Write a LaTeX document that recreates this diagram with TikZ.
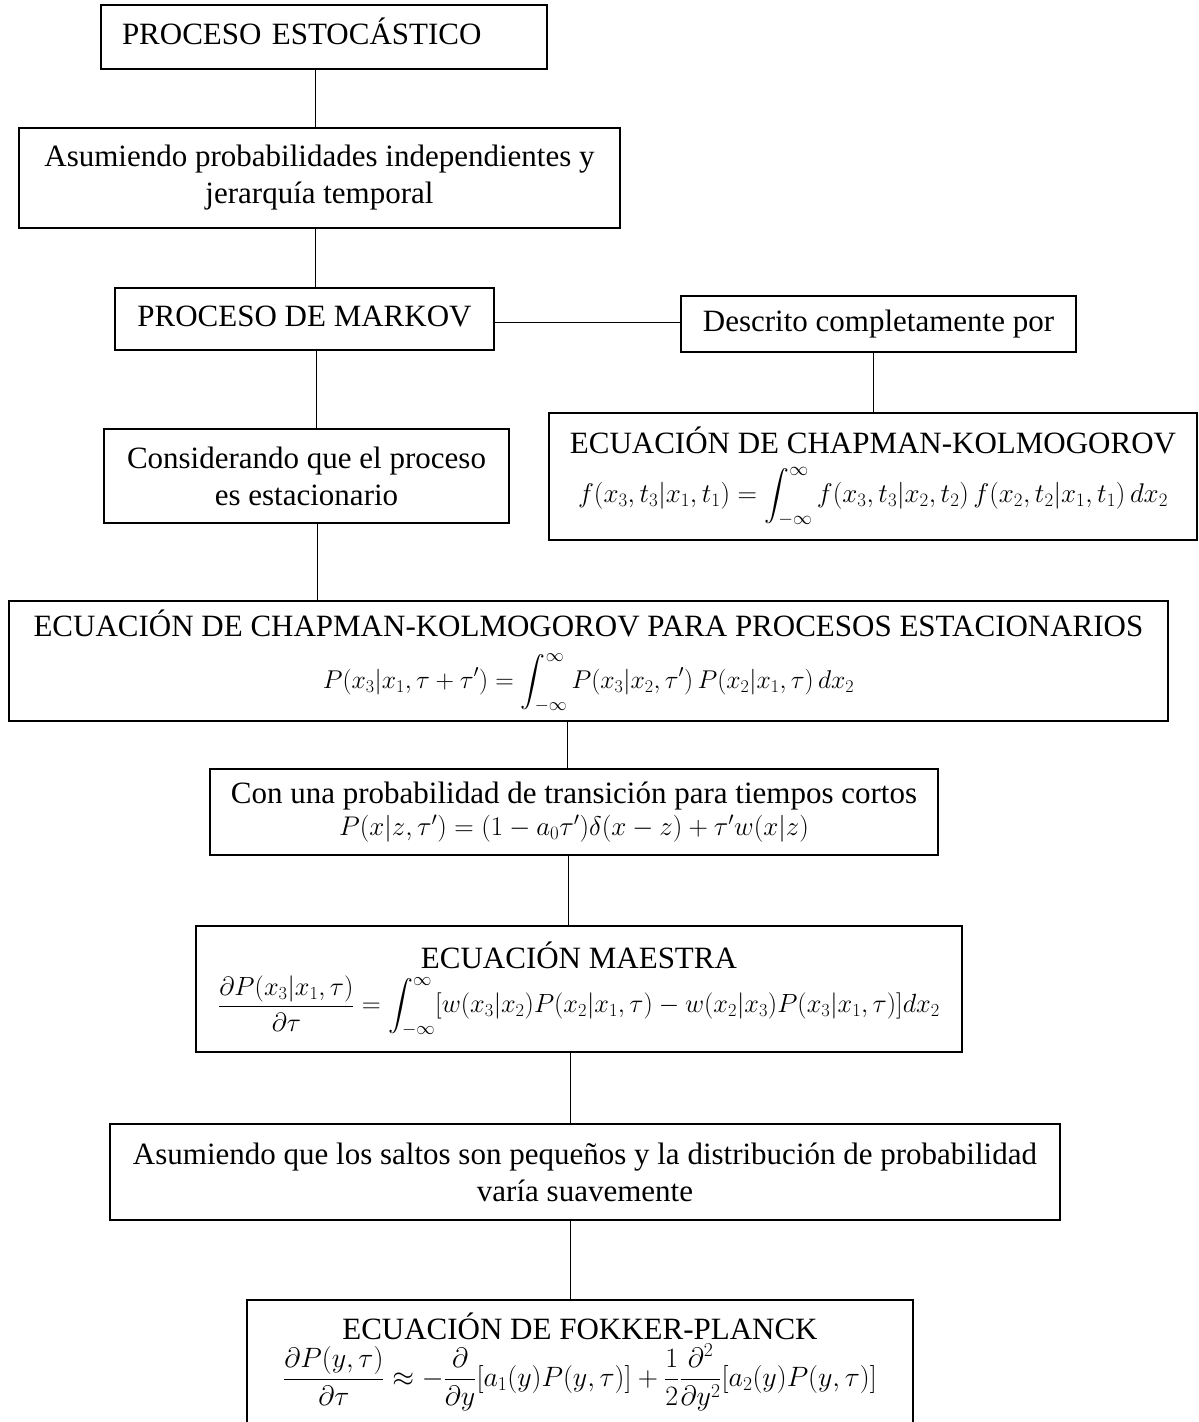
\RequirePackage{fix-cm}
\documentclass[tikz,border=0pt]{standalone}
\usepackage{amsmath}
\usepackage{fontspec}
\setmainfont{Liberation Serif}
\newcommand\eqsz[1]{\fontsize{#1}{32}\selectfont}
\tikzset{
  box/.style={draw, line width=1.5pt, inner sep=0pt, align=center, font=\fontsize{31}{37}\selectfont},
  link/.style={line width=1pt},
}
\begin{document}
\begin{tikzpicture}[x=1pt,y=-1pt]
\fill[white] (0,0) rectangle (1199,1422);
\useasboundingbox (0,0) rectangle (1199,1422);
\clip (0,0) rectangle (1199,1422);

\node[box, minimum height=64, text width=404, inner xsep=21, align=left, text depth=12pt] (n1) at (324,37) {PROCESO ESTOCÁSTICO};
\node[box, minimum width=601, minimum height=100] (n2) at (319.5,178) {Asumiendo probabilidades independientes y\\ jerarquía temporal};
\node[box, minimum width=379, minimum height=62, text depth=6pt] (n3) at (304.5,319) {PROCESO DE MARKOV};
\node[box, minimum width=395, minimum height=56] (n4) at (878.5,324) {Descrito completamente por};
\node[box, minimum width=405, minimum height=94] (n5) at (306.5,476) {Considerando que el proceso\\ es estacionario};
\node[box, minimum width=648, minimum height=127] (n6) at (873,476.5) {ECUACIÓN DE CHAPMAN-KOLMOGOROV\\[12pt]
  {\eqsz{27}$\displaystyle f(x_3,t_3|x_1,t_1)=\int_{-\infty}^{\infty} f(x_3,t_3|x_2,t_2)\, f(x_2,t_2|x_1,t_1)\, dx_2$}};
\node[box, minimum width=1159, minimum height=120] (n7) at (588.5,661) {ECUACIÓN DE CHAPMAN-KOLMOGOROV PARA PROCESOS ESTACIONARIOS\\[15pt]
  {\eqsz{25.7}$\displaystyle P(x_3|x_1,\tau+\tau')=\int_{-\infty}^{\infty} P(x_3|x_2,\tau')\, P(x_2|x_1,\tau)\, dx_2$}};
\node[box, minimum width=728, minimum height=86] (n8) at (574,812) {Con una probabilidad de transición para tiempos cortos\\[-5pt]
  {\eqsz{27}$P(x|z,\tau')=(1-a_0\tau')\delta(x-z)+\tau' w(x|z)$}};
\node[box, minimum width=766, minimum height=126] (n9) at (579,989) {ECUACIÓN MAESTRA\\[6pt]
  {\eqsz{26.3}$\displaystyle \frac{\partial P(x_3|x_1,\tau)}{\partial\tau}=\int_{-\infty}^{\infty}[w(x_3|x_2)P(x_2|x_1,\tau)-w(x_2|x_3)P(x_3|x_1,\tau)]dx_2$}};
\node[box, minimum width=950, minimum height=96] (n10) at (585,1172) {Asumiendo que los saltos son pequeños y la distribución de probabilidad\\ varía suavemente};
\node[box, minimum width=666, minimum height=124] (n11) at (580,1362) {ECUACIÓN DE FOKKER-PLANCK\\[3pt]
  {\eqsz{28}$\displaystyle \frac{\partial P(y,\tau)}{\partial\tau}\approx-\frac{\partial}{\partial y}[a_1(y)P(y,\tau)]+\frac{1}{2}\frac{\partial^2}{\partial y^2}[a_2(y)P(y,\tau)]$}};

\draw[link] (n1.south -| 315,0) -- (n2.north -| 315,0);
\draw[link] (n2.south -| 315,0) -- (n3.north -| 315,0);
\draw[link] (n3.east |- 0,322) -- (n4.west |- 0,322);
\draw[link] (n3.south -| 316,0) -- (n5.north -| 316,0);
\draw[link] (n4.south -| 873,0) -- (n6.north -| 873,0);
\draw[link] (n5.south -| 317,0) -- (n7.north -| 317,0);
\draw[link] (n7.south -| 567,0) -- (n8.north -| 567,0);
\draw[link] (n8.south -| 568,0) -- (n9.north -| 568,0);
\draw[link] (n9.south -| 570,0) -- (n10.north -| 570,0);
\draw[link] (n10.south -| 570,0) -- (n11.north -| 570,0);
\end{tikzpicture}
\end{document}
